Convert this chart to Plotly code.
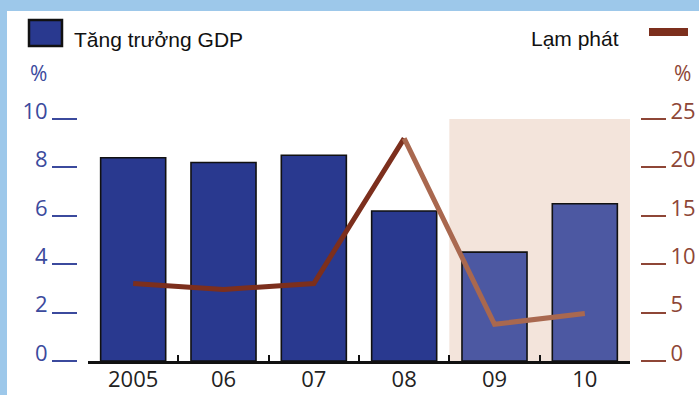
import plotly.graph_objects as go

# ---- data ----
years = ["2005", "06", "07", "08", "09", "10"]
gdp_growth = [8.4, 8.2, 8.5, 6.2, 4.5, 6.5]
inflation = [8.0, 7.4, 8.0, 23.0, 3.8, 4.9]
left_ticks = [0, 2, 4, 6, 8, 10]
right_ticks = [0, 5, 10, 15, 20, 25]

W, H = 699, 395
def px(x):
    return x / W
def py(y):
    return 1 - y / H

BLUE_DARK = "#29398f"
BLUE_LIGHT = "#4c58a2"
BROWN_DARK = "#7c2f1d"
BROWN_LIGHT = "#a9684f"
LBL_BLUE = "#3b4a9d"
LBL_BROWN = "#8e4636"

bar_colors = [BLUE_DARK] * 4 + [BLUE_LIGHT] * 2

fig = go.Figure()
fig.add_trace(go.Bar(
    x=years, y=gdp_growth, width=0.72,
    marker=dict(color=bar_colors, line=dict(color="#111111", width=1.6)),
    yaxis="y", showlegend=False,
))
# inflation line: dark part (2005-08), lighter part (08-10)
infl_dark = [v if i <= 3 else None for i, v in enumerate(inflation)]
infl_light = [v if i >= 3 else None for i, v in enumerate(inflation)]
fig.add_trace(go.Scatter(x=years, y=infl_dark, mode="lines", yaxis="y2",
                         line=dict(color=BROWN_DARK, width=5), showlegend=False))
fig.add_trace(go.Scatter(x=years, y=infl_light, mode="lines", yaxis="y2",
                         line=dict(color=BROWN_LIGHT, width=5), showlegend=False))

shapes = [
    # forecast shading
    dict(type="rect", xref="x", yref="y", x0=3.5, x1=5.5, y0=0, y1=10,
         fillcolor="#f3e4db", line=dict(width=0), layer="below"),
    # frame bits (blue border)
    dict(type="rect", xref="paper", yref="paper", x0=0, x1=px(7), y0=0, y1=1,
         fillcolor="#9dc8ea", line=dict(width=0)),
    dict(type="rect", xref="paper", yref="paper", x0=0, x1=1, y0=py(11), y1=1,
         fillcolor="#9dc8ea", line=dict(width=0)),
    # legend square
    dict(type="rect", xref="paper", yref="paper", x0=px(29), x1=px(62),
         y0=py(46), y1=py(20), fillcolor=BLUE_DARK, line=dict(color="#111111", width=2.5)),
    # legend line
    dict(type="line", xref="paper", yref="paper", x0=px(649), x1=px(688),
         y0=py(32), y1=py(32), line=dict(color=BROWN_DARK, width=8)),
]

annotations = [
    dict(text="Tăng trưởng GDP", x=px(72), y=py(40), xref="paper", yref="paper",
         xanchor="left", yanchor="middle", showarrow=False,
         font=dict(family="Liberation Sans, Arial", size=21, color="#111111")),
    dict(text="Lạm phát", x=px(621), y=py(39), xref="paper", yref="paper",
         xanchor="right", yanchor="middle", showarrow=False,
         font=dict(family="Liberation Sans, Arial", size=21, color="#111111")),
    dict(text="%", x=px(38), y=py(73), xref="paper", yref="paper",
         xanchor="center", yanchor="middle", showarrow=False,
         font=dict(family="Open Sans", size=21, color=LBL_BLUE)),
    dict(text="%", x=px(682), y=py(73), xref="paper", yref="paper",
         xanchor="center", yanchor="middle", showarrow=False,
         font=dict(family="Open Sans", size=21, color=LBL_BROWN)),
]

fig.update_layout(
    width=W, height=H,
    margin=dict(l=0, r=0, t=0, b=0),
    paper_bgcolor="white", plot_bgcolor="rgba(0,0,0,0)",
    shapes=shapes, annotations=annotations,
    xaxis=dict(
        domain=[px(88), px(630)], type="category",
        showline=True, linecolor="#111111", linewidth=3,
        ticks="inside", tickson="boundaries", ticklen=6, tickwidth=2, tickcolor="#111111",
        showgrid=False, automargin=False, ticklabelstandoff=-3,
        tickfont=dict(family="Open Sans", size=22, color="#222222"),
    ),
    yaxis=dict(
        domain=[1 - 361 / H, 1 - 119 / H], range=[0, 10],
        anchor="free", position=px(77),
        tickvals=left_ticks, ticks="outside", ticklen=25, tickwidth=2, tickcolor=LBL_BLUE,
        showline=False, showgrid=False, zeroline=False, automargin=False,
        ticklabelshift=-8,
        tickfont=dict(family="Open Sans", size=22, color=LBL_BLUE),
    ),
    yaxis2=dict(
        domain=[1 - 361 / H, 1 - 119 / H], range=[0, 25],
        overlaying="y", side="right", anchor="free", position=px(640),
        tickvals=right_ticks, ticks="outside", ticklen=25, tickwidth=2, tickcolor=LBL_BROWN,
        showline=False, showgrid=False, zeroline=False, automargin=False,
        ticklabelshift=-8,
        tickfont=dict(family="Open Sans", size=22, color=LBL_BROWN),
    ),
)

fig.write_html("out.html")
